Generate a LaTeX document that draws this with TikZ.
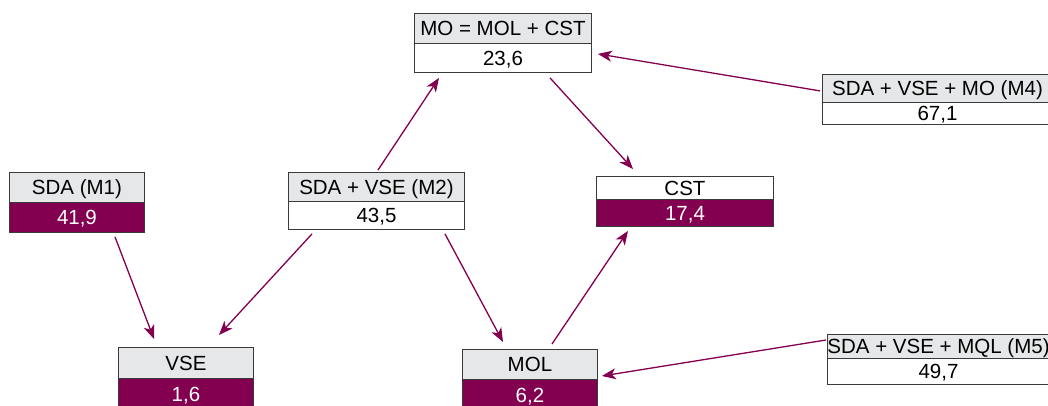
\documentclass[tikz,border=0pt]{standalone}
\usepackage{fontspec}
\setmainfont{Liberation Sans}
\usetikzlibrary{arrows.meta,calc}

\definecolor{headgray}{HTML}{E6E7E8}
\definecolor{wine}{HTML}{82004F}
\definecolor{boxline}{HTML}{3A3A3A}

\tikzset{
  cell/.style={draw=boxline, line width=0.9pt, anchor=north west, inner sep=0pt,
               font=\fontsize{20.5}{22}\selectfont, text height=14.5pt, text depth=0pt},
  graycell/.style={cell, fill=headgray, text=black},
  whitecell/.style={cell, fill=white, text=black},
  winecell/.style={cell, fill=wine, text=white},
  sz/.style 2 args={minimum width=#1pt, minimum height=#2pt},
  link/.style={draw=wine, line width=1.3pt,
               -{Stealth[length=14pt, width=11pt, inset=4pt]}}
}

\begin{document}
\begin{tikzpicture}[x=1pt, y=-1pt]
  \useasboundingbox (0,0) rectangle (1048,405);
  \clip (0,0) rectangle (1048,405);

  % MO = MOL + CST
  \node[graycell, sz={177}{30}]  (moh) at (414,13) {MO = MOL + CST};
  \node[whitecell, sz={177}{29}] (mov) at (414,43) {23,6};

  % SDA + VSE + MO (M4)
  \node[graycell, sz={230}{28}]  (m4h) at (822,74)  {SDA + VSE + MO (M4)};
  \node[whitecell, sz={230}{22}] (m4v) at (822,102) {67,1};

  % SDA (M1)
  \node[graycell, sz={135}{30}] (m1h) at (9,172) {SDA (M1)};
  \node[winecell, sz={135}{30}] (m1v) at (9,202) {41,9};

  % SDA + VSE (M2)
  \node[graycell, sz={176}{29}]  (m2h) at (288,172) {SDA + VSE (M2)};
  \node[whitecell, sz={176}{28}] (m2v) at (288,201) {43,5};

  % CST
  \node[whitecell, sz={177}{23}] (csth) at (596,176) {CST};
  \node[winecell, sz={177}{27}]  (cstv) at (596,199) {17,4};

  % VSE
  \node[graycell, sz={135}{31}] (vseh) at (118,347) {VSE};
  \node[winecell, sz={135}{31}] (vsev) at (118,378) {1,6};

  % MOL
  \node[graycell, sz={135}{30}] (molh) at (462,349) {MOL};
  \node[winecell, sz={135}{31}] (molv) at (462,379) {6,2};

  % SDA + VSE + MQL (M5)
  \node[graycell, sz={222}{24}]  (m5h) at (827,334) {SDA + VSE + MQL (M5)};
  \node[whitecell, sz={222}{26}] (m5v) at (827,358) {49,7};

  % connectors
  \draw[link] ([shift={(90,-2)}]m2h.north west)  -- ([shift={(25,5)}]mov.south west);
  \draw[link] ([shift={(136,5)}]mov.south west)  -- ([shift={(37,-7)}]csth.north west);
  \draw[link] ([shift={(-2,-12)}]m4h.south west) -- ([shift={(6,10)}]moh.south east);
  \draw[link] ([shift={(106,4)}]m1v.south west)  -- ([shift={(36,-8)}]vseh.north west);
  \draw[link] ([shift={(24,4)}]m2v.south west)   -- ([shift={(101,-12)}]vseh.north west);
  \draw[link] ([shift={(157,4)}]m2v.south west)  -- ([shift={(41,-7)}]molh.north west);
  \draw[link] ([shift={(90,-5)}]molh.north west) -- ([shift={(32,4)}]cstv.south west);
  \draw[link] ([shift={(-1,6)}]m5h.north west)   -- ([shift={(4,27)}]molh.north east);
\end{tikzpicture}
\end{document}
